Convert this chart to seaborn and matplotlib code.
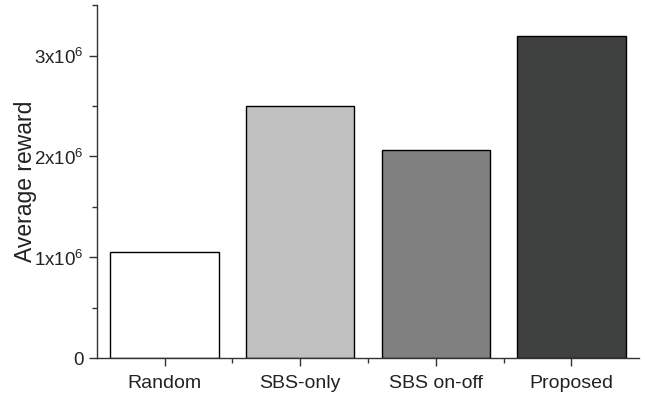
import matplotlib
matplotlib.use("Agg")
import matplotlib.pyplot as plt
from matplotlib.ticker import MultipleLocator, FixedLocator, FuncFormatter
import pandas as pd
import seaborn as sns

# Bar chart data
methods = ['Random', 'SBS-only', 'SBS on-off', 'Proposed']
rewards = [1.05e6, 2.495e6, 2.065e6, 3.19e6]
colors = ['#ffffff', '#c0c0c0', '#808080', '#3f4140']

sns.set_style("ticks")
plt.rcParams['font.family'] = ['Liberation Sans', 'DejaVu Sans']
plt.rcParams['mathtext.fontset'] = 'custom'
plt.rcParams['mathtext.rm'] = 'Liberation Sans'

df = pd.DataFrame({'method': methods, 'reward': rewards})

fig = plt.figure(figsize=(6.45, 3.93), dpi=100)
ax = fig.add_axes([0.150, 0.089, 0.841, 0.898])
sns.barplot(data=df, x='method', y='reward', hue='method', palette=colors,
            width=0.8, edgecolor='black', linewidth=1.0, legend=False, ax=ax)

ax.set_xlim(-0.5, 3.5)
ax.set_ylim(0, 3.5e6)
ax.yaxis.set_major_locator(MultipleLocator(1e6))
ax.yaxis.set_minor_locator(MultipleLocator(0.5e6))


def fmt(v, pos):
    n = int(round(v / 1e6))
    if n == 0:
        return '0'
    return r'%dx10$^{6}$' % n


ax.yaxis.set_major_formatter(FuncFormatter(fmt))
ax.xaxis.set_minor_locator(FixedLocator([0.5, 1.5, 2.5]))

ax.set_xlabel('')
ax.set_ylabel('Average reward', fontsize=16.5, color='#222222')
ax.yaxis.set_label_coords(-0.11, 0.5)
ax.tick_params(axis='both', which='major', direction='out', length=6, width=1,
               labelsize=13.5, colors='#333333', labelcolor='#222222')
ax.tick_params(axis='both', which='minor', direction='out', length=3.5, width=1,
               colors='#333333')
ax.tick_params(axis='x', which='major', labelsize=14, pad=6)

for side in ['top', 'right']:
    ax.spines[side].set_visible(False)
for side in ['left', 'bottom']:
    ax.spines[side].set_linewidth(1.0)
    ax.spines[side].set_color('#333333')

fig.savefig('out.png', dpi=100)
